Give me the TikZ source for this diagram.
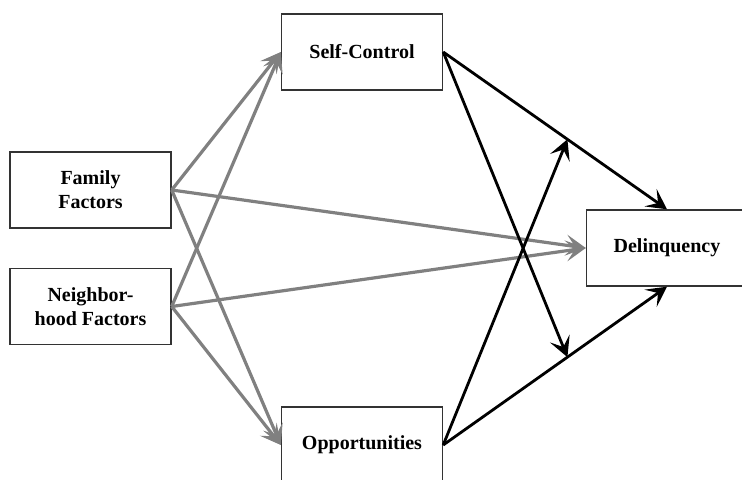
\documentclass[tikz,border=0pt]{standalone}
\usepackage{fontspec}
\setmainfont{Liberation Serif}
\usetikzlibrary{calc}
\usetikzlibrary{arrows.meta}
\usetikzlibrary{positioning}

\begin{document}
\begin{tikzpicture}[x=0.5pt,y=-0.5pt,>={Stealth[length=10pt,width=10.5pt,inset=4.5pt]},
		factor/.style={rectangle,draw=black!80,line width=0.7pt,minimum width=80.5pt,minimum height=38pt,align=center,font=\bfseries,inner sep=2pt},
		grayline/.style={->,gray,line width=1.6pt},
		blackline/.style={->,black,line width=1.4pt}]
		\useasboundingbox (0,0) rectangle (742,480);
		\node[factor] (fam)   at (90.5,190)  {Family\\Factors};
		\node[factor] (nbh)   at (90.5,306.5) {Neighbor-\\hood Factors};
		\node[factor] (self)  at (362,52)    {Self-Control};
		\node[factor] (opp)   at (362,445)   {Opportunities};
		\node[factor] (delin) at (667,248)   {Delinquency};
		
		\coordinate (mtop) at ($(self.east)!0.555!(delin.north)$);
		\coordinate (mbot) at ($(opp.east)!0.555!(delin.south)$);
		
		\path[grayline]
		(fam.east) edge (self.west)
		(fam.east) edge (opp.west)
		(fam.east) edge (delin.west)
		(nbh.east) edge (self.west)
		(nbh.east) edge (opp.west)
		(nbh.east) edge (delin.west);
		
		\path[blackline]
		(self.east) edge (delin.north)
		(opp.east) edge (delin.south)
		(self.east) edge (mbot)
		(opp.east) edge (mtop);
\end{tikzpicture}
\end{document}
